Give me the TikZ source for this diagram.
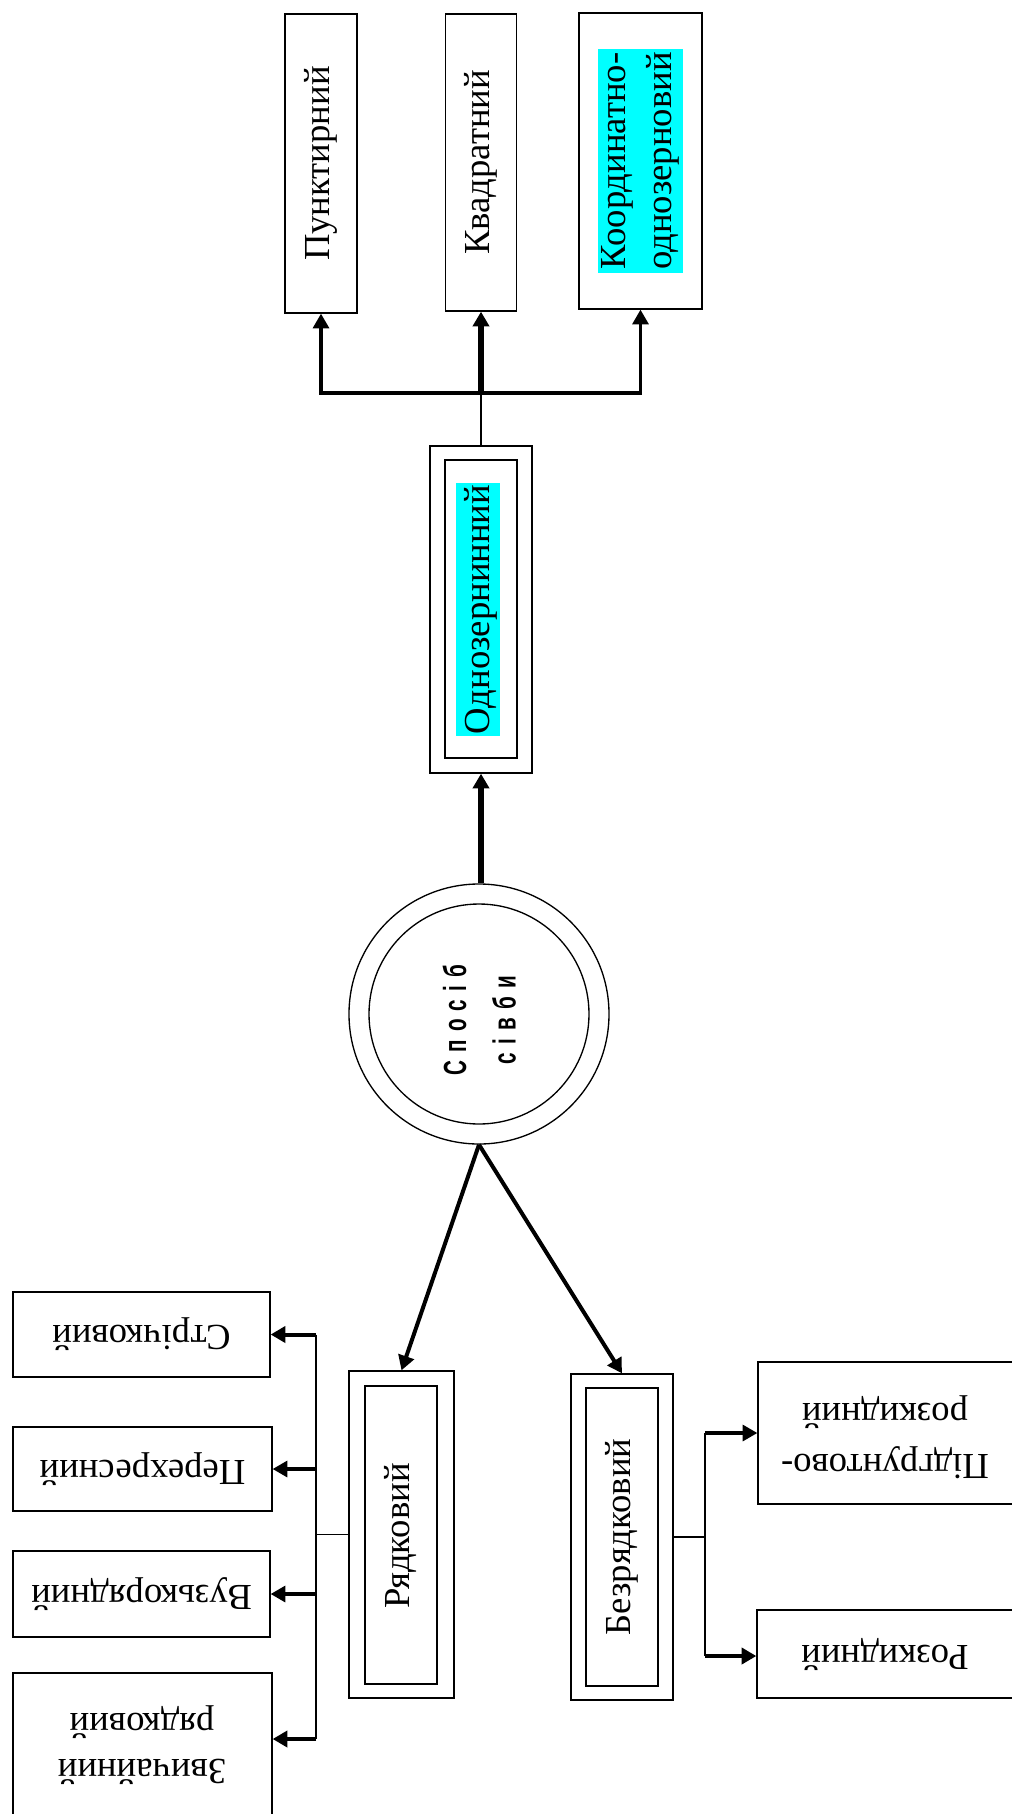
\documentclass[tikz,border=0pt]{standalone}
\usepackage{fontspec}
\setmainfont{Liberation Serif}
\newfontfamily\circfont[LetterSpace=40]{Liberation Sans}
\usetikzlibrary{arrows.meta}
\definecolor{aqua}{RGB}{0,255,255}
\begin{document}
\begin{tikzpicture}[x=0.75pt,y=-0.75pt,
  bx/.style 2 args={draw, line width=1pt, inner sep=0pt, minimum width=#1*0.75pt, minimum height=#2*0.75pt},
  lbl/.style={inner sep=0pt, font=\fontsize{27.5}{35}\selectfont, align=center},
  hl/.style={fill=aqua, inner sep=1.5pt, text height=24pt, text depth=6.5pt},
  hlm/.style={fill=aqua, inner sep=2.5pt},
  thinln/.style={line width=1pt},
  busln/.style={line width=1.5pt},
  arr/.style={line width=2.3pt, -{Triangle[width=12pt,length=11pt]}},
  arrmed/.style={line width=3pt, -{Triangle[width=12pt,length=11pt]}},
  arrthick/.style={line width=3.8pt, -{Triangle[width=12pt,length=11pt]}},
  ring/.style={draw, circle, line width=1pt, inner sep=0pt, minimum size=#1*0.75pt}
]
\path[use as bounding box, fill=white] (0,0) rectangle (1011,1814);

% top boxes
\node[bx={72}{299}] (punk) at (321,163.5) {};
\node[bx={71}{297}] (kvad) at (481,162.5) {};
\node[bx={123}{296}] (koord) at (640.5,161) {};
\node[lbl, rotate=90] (punkT) at (punk) {Пунктирний};
\node[lbl, rotate=90] (kvadT) at (kvad) {Квадратний};
\node[lbl, hlm, rotate=90] (koordT) at (koord) {Координатно-\\однозерновий};

% one-seed box
\node[bx={102}{327}] (odno) at (481,609.5) {};
\node[bx={72}{298}] (odnoIn) at (481,609) {};
\node[lbl, hl, rotate=90] (odnoT) at (478,609.5) {Однозернинний};

% circle
\node[ring=260] (circ) at (479,1014) {};
\node[ring=220] (circIn) at (479,1014) {};
\node[inner sep=0pt, rotate=90] (circT) at (481,1020)
  {\scalebox{1}[1.55]{\circfont\bfseries\fontsize{15.5}{24}\selectfont
   \begin{tabular}{@{}c@{}}Спосіб\\сівби\end{tabular}}};

% row / non-row boxes
\node[bx={105}{327}] (ryad) at (401.5,1534.5) {};
\node[bx={72}{298}] (ryadIn) at (401,1535) {};
\node[lbl, rotate=90] (ryadT) at (400,1536) {Рядковий};
\node[bx={102}{326}] (bezr) at (622,1537) {};
\node[bx={72}{298}] (bezrIn) at (622,1537) {};
\node[lbl, rotate=90] (bezrT) at (622,1537) {Безрядковий};

% lower-left boxes
\node[bx={257}{85}] (stri) at (141.5,1334.5) {};
\node[bx={259}{84}] (pere) at (142.5,1469) {};
\node[bx={257}{86}] (vuzk) at (141.5,1594) {};
\node[bx={259}{160}] (zvych) at (142.5,1753) {};
\node[lbl, rotate=180] (striT) at (stri) {Стрічковий};
\node[lbl, rotate=180] (pereT) at (pere) {Перехресний};
\node[lbl, rotate=180] (vuzkT) at (vuzk) {Вузькорядний};
\node[lbl, rotate=180] (zvychT) at (142,1745) {Звичайний\\рядковий};

% lower-right boxes
\node[bx={255}{142}] (pidg) at (885.5,1433) {};
\node[bx={256}{88}] (rozk) at (885,1654) {};
\node[lbl, rotate=180, font=\fontsize{27.5}{38}\selectfont] (pidgT) at (885,1437) {Підгрунтово-\\розкидний};
\node[lbl, rotate=180] (rozkT) at (rozk) {Розкидний};

% connectors: circle -> one-seed
\draw[arrthick] (circ.north -| odno.south) -- (odno.south);

% one-seed -> three boxes
\coordinate (jn) at (481,393);
\draw[thinln] (odno.north) -- (jn);
\draw[arr] (jn) -| (punk.south);
\draw[arr] (jn) -| (koord.south);
\draw[arrthick] (jn) -- (kvad.south);

% circle -> row / non-row
\draw[arrmed] (circ.south) -- (ryad.north);
\draw[arrmed] (circ.south) -- (bezr.north);

% row -> left bus
\coordinate (lb) at (316,1534.5);
\coordinate (lbTop) at (316,1334.5);
\coordinate (lbBot) at (316,1739);
\draw[thinln] (ryad.west) -- (lb);
\draw[busln] (lbTop) -- (lbBot);
\draw[arrmed] (lbTop) -- (stri.east);
\draw[arr] (lb |- pere.east) -- (pere.east);
\draw[arr] (lb |- vuzk.east) -- (vuzk.east);
\draw[arrmed] (lbBot) -- (lbBot -| zvych.east);

% non-row -> right bus
\coordinate (rb) at (705,1537);
\coordinate (rbTop) at (705,1433);
\coordinate (rbBot) at (705,1656);
\draw[thinln] (bezr.east) -- (rb);
\draw[busln] (rbTop) -- (rbBot);
\draw[arr] (rbTop) -- (pidg.west);
\draw[arrmed] (rbBot) -- (rbBot -| rozk.west);
\end{tikzpicture}
\end{document}
